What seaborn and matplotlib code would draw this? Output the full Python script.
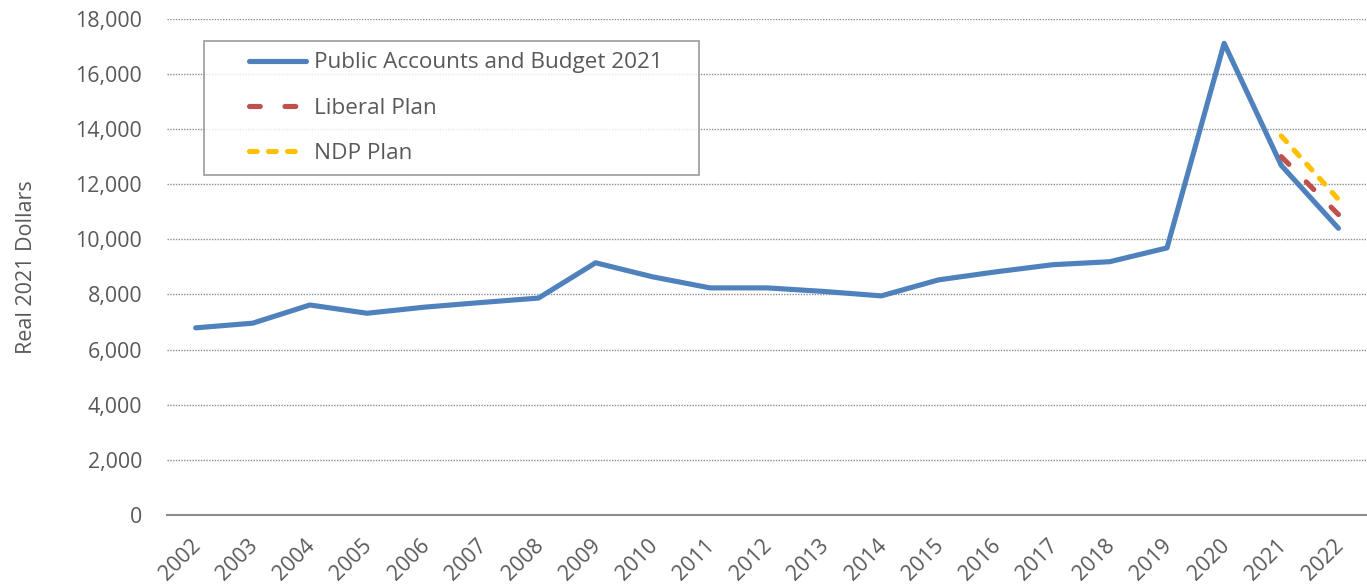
import matplotlib
matplotlib.use("Agg")
import matplotlib.pyplot as plt
import matplotlib.transforms as mtransforms
from matplotlib.lines import Line2D
from matplotlib.legend_handler import HandlerLine2D
import seaborn as sns
import pandas as pd
from matplotlib.ticker import FuncFormatter, MultipleLocator

# Spending in real 2021 dollars by fiscal year
years = [str(y) for y in range(2002, 2023)]
public_accounts = [6790, 6960, 7620, 7320, 7540, 7710, 7870, 9150, 8640, 8240,
                   8240, 8110, 7950, 8530, 8820, 9080, 9190, 9690, 17110, 12680, 10400]
liberal_years = ["2021", "2022"]
liberal_plan = [13000, 10900]
ndp_years = ["2021", "2022"]
ndp_plan = [13750, 11450]

series_names = ["Public Accounts and Budget 2021", "Liberal Plan", "NDP Plan"]
colors = ["#4F81BD", "#C0504D", "#FFC000"]
text_color = "#595959"

sns.set_theme(style="white")
plt.rcParams["font.family"] = ["Open Sans", "DejaVu Sans"]

fig = plt.figure(figsize=(13.67, 5.86), dpi=100)
ax = fig.add_axes([0.1222, 0.121, 0.8778, 0.847])

df_pa = pd.DataFrame({"year": years, "value": public_accounts})
df_lib = pd.DataFrame({"year": liberal_years, "value": liberal_plan})
df_ndp = pd.DataFrame({"year": ndp_years, "value": ndp_plan})

# Map year strings onto category positions so all series share one axis
pos = {y: i for i, y in enumerate(years)}
for d in (df_pa, df_lib, df_ndp):
    d["x"] = d["year"].map(pos)

LW = 3.7
sns.lineplot(data=df_pa, x="x", y="value", ax=ax, color=colors[0], lw=LW,
             label=series_names[0], solid_capstyle="round", solid_joinstyle="round")
sns.lineplot(data=df_lib, x="x", y="value", ax=ax, color=colors[1], lw=LW,
             label=series_names[1])
sns.lineplot(data=df_ndp, x="x", y="value", ax=ax, color=colors[2], lw=LW,
             label=series_names[2])

dash_styles = [None, [2.1, 4.8], [1.5, 2.2]]
lines = ax.get_lines()
for ln, ds in zip(lines, dash_styles):
    if ds is not None:
        ln.set_dashes(ds)
        ln.set_dash_capstyle("round")

ax.set_xlim(-0.5, len(years) - 0.5)
ax.set_ylim(0, 18000)
ax.yaxis.set_major_locator(MultipleLocator(2000))
ax.yaxis.set_major_formatter(FuncFormatter(lambda v, p: f"{int(v):,}"))
ax.set_xticks(range(len(years)))
ax.set_xticklabels(years, rotation=45, ha="right", va="center",
                   rotation_mode="anchor")

ax.tick_params(axis="both", length=0, labelsize=15.4, colors=text_color)
ax.tick_params(axis="y", pad=18)
ax.set_xlabel("")
ax.set_ylabel("Real 2021 Dollars", fontsize=15.5, color=text_color, labelpad=27.5)

# Push the slanted year labels down and slightly right of their ticks
for lbl in ax.get_xticklabels():
    lbl.set_transform(lbl.get_transform() +
                      mtransforms.ScaledTranslation(0.02, -0.23, fig.dpi_scale_trans))

ax.grid(axis="y", color="#8c8c8c", linestyle=(0, (1, 1)), linewidth=1)
ax.grid(axis="x", visible=False)
for side in ["top", "right", "left"]:
    ax.spines[side].set_visible(False)
ax.spines["bottom"].set_color("#8c8c8c")
ax.spines["bottom"].set_linewidth(1.5)

leg = ax.legend(loc="upper left", bbox_to_anchor=(0.0308, 0.9556, 0.4125, 0.0),
                mode="expand", fontsize=16.2,
                frameon=True, fancybox=False, edgecolor="#8c8c8c",
                handlelength=4.0, handletextpad=0.36, labelspacing=1.07,
                borderpad=0.52, borderaxespad=0,
                handler_map={Line2D: HandlerLine2D(xpad=1.5)})
leg.get_frame().set_linewidth(1.3)
for t in leg.get_texts():
    t.set_color(text_color)
for h, ds in zip(leg.get_lines(), dash_styles):
    h.set_linewidth(LW)
    if ds is not None:
        h.set_dashes(ds)
        h.set_dash_capstyle("round")
    else:
        h.set_solid_capstyle("round")

fig.savefig("out.png", dpi=100, facecolor="white")
